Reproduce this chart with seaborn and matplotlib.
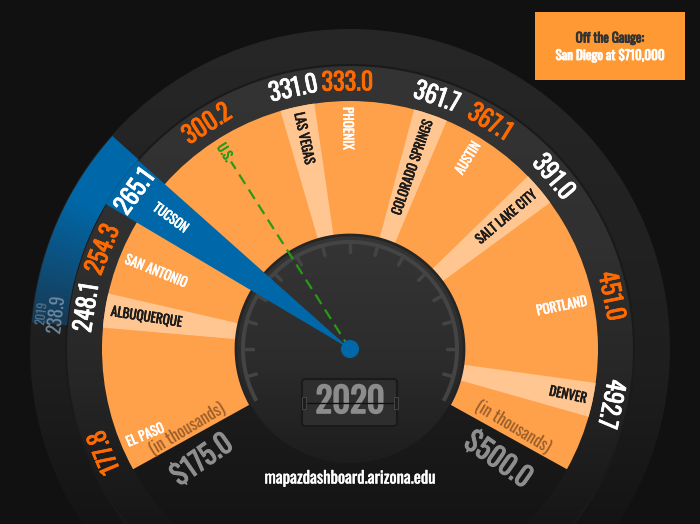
import numpy as np
import pandas as pd
import matplotlib.pyplot as plt
import matplotlib.patheffects as pe
import seaborn as sns
from matplotlib.patches import Wedge, Circle, Rectangle, FancyBboxPatch
from matplotlib.colors import LinearSegmentedColormap

# median home price, 2020 (in thousands)
cities = ["EL PASO", "ALBUQUERQUE", "SAN ANTONIO", "TUCSON", "U.S.", "LAS VEGAS",
          "PHOENIX", "COLORADO SPRINGS", "AUSTIN", "SALT LAKE CITY", "PORTLAND", "DENVER"]
median_price = [177.8, 248.1, 254.3, 265.1, 300.2, 331.0, 333.0, 361.7, 367.1, 391.0, 451.0, 492.7]
tucson_2019 = 238.9
gauge_range = [175.0, 500.0]
gauge_labels = ["$175.0", "$500.0"]
year = "2020"
off_gauge_note = ["Off the Gauge:", "San Diego at $710,000"]
source = "mapazdashboard.arizona.edu"

W, H = 700, 524
CX, CY = 350, 175
START, END = 209, -29
R_DIAL, R_GAUGE, R_VALUE, R_OUTER = 114, 248, 284, 320

ORANGE = "#FFA04B"
PALE = "#FFC691"
BLUE = "#0068A8"
HOT = "#FF6A00"
GREEN = "#2A9A16"

df = pd.DataFrame({"city": cities, "price": median_price})
df["rank"] = np.arange(len(df))
# linear value scale blended with even spacing so close values don't pile up
lin = START + (df["price"] - gauge_range[0]) / (gauge_range[1] - gauge_range[0]) * (END - START)
df["angle"] = 0.4 * lin + 0.6 * np.linspace(200, -4, len(df))
df["kind"] = np.where(df["rank"] % 2 == 1, "pale", "orange")
df.loc[df["city"] == "TUCSON", "kind"] = "blue"
df.loc[df["city"] == "U.S.", "kind"] = "us"


def to_angle(v):
    xs = np.r_[gauge_range[0], df["price"], gauge_range[1]]
    ys = np.r_[START, df["angle"], END]
    return float(np.interp(v, xs, ys))


def polar(r, a):
    t = np.deg2rad(a)
    return CX + r * np.cos(t), CY + r * np.sin(t)


def heavy(color, w=0.7):
    # Oswald is only installed at 400, thicken it a little
    return [pe.withStroke(linewidth=w, foreground=color)]


sns.set_theme(style="white")
plt.rcParams["font.family"] = ["Oswald", "DejaVu Sans"]

fig = plt.figure(figsize=(7, 5.24), dpi=100, facecolor="#111111")
ax = fig.add_axes([0, 0, 1, 1])
ax.set_facecolor("#111111")
ax.set_axis_off()


def shaded(patch, stops, y_bot, y_top, z):
    patch.set_facecolor("none")
    patch.set_edgecolor("none")
    patch.set_zorder(z)
    ax.add_patch(patch)
    cmap = LinearSegmentedColormap.from_list("", stops)
    im = ax.imshow(np.linspace(0, 1, 256)[:, None], cmap=cmap, origin="lower",
                   extent=(0, W, y_bot, y_top), aspect="auto", zorder=z)
    im.set_clip_path(patch)


# dark body of the gauge
shaded(Circle((CX, CY), R_OUTER), [(0, "#141414"), (0.3, "#1e1e1e"), (1, "#272727")],
       0, CY + R_OUTER, 1)
shaded(Wedge((CX, CY), R_VALUE, 0, 360, width=R_VALUE - R_GAUGE),
       [(0, "#161616"), (0.3, "#262626"), (0.6, "#303030"), (1, "#343434")],
       0, CY + R_VALUE, 2)
arc = np.linspace(-45, 225, 200)
ax.plot(*polar(R_VALUE, arc), color="#1a1a1a", lw=1.5, zorder=2)

# orange gauge with alternating city bands
ax.add_patch(Wedge((CX, CY), R_GAUGE, END, START, width=R_GAUGE - R_DIAL,
                   facecolor=ORANGE, edgecolor="none", zorder=3))
for _, row in df[df["kind"] == "pale"].iterrows():
    ax.add_patch(Wedge((CX, CY), R_GAUGE, row["angle"] - 4, row["angle"] + 4,
                       width=R_GAUGE - R_DIAL, facecolor=PALE, edgecolor="none", zorder=4))

# dial face
shaded(Circle((CX, CY), R_DIAL), [(0, "#1d1d1d"), (0.45, "#2c2c2c"), (1, "#353535")],
       CY - R_DIAL, CY + R_DIAL, 5)
arc = np.linspace(END, START, 200)
ax.plot(*polar(R_DIAL, arc), color="#252525", lw=2, zorder=5)
ax.add_patch(Wedge((CX, CY), 109, END, START, width=4, facecolor="#444444",
                   edgecolor="none", zorder=6))
for a in np.arange(-15, 196, 15):
    ax.plot(*polar(np.array([97, 105]), a), color="#444444", lw=2.5, zorder=6)

# Tucson needle and the change since 2019
tuc = df[df["city"] == "TUCSON"].iloc[0]
ax.add_patch(Wedge((CX, CY), R_VALUE, tuc["angle"] - 5.5, tuc["angle"] + 5.5,
                   facecolor=BLUE, edgecolor="none", zorder=7))
a19 = to_angle(tucson_2019)
seg = np.linspace(tuc["angle"] - 5.5, a19, 61)
fade = LinearSegmentedColormap.from_list("", [(0, BLUE), (0.35, BLUE), (1, "#173A55")])
for i in range(len(seg) - 1):
    ax.add_patch(Wedge((CX, CY), R_OUTER - 1, seg[i] - 0.2, seg[i + 1],
                       width=R_OUTER - 1 - R_VALUE, facecolor=fade(i / (len(seg) - 2)),
                       edgecolor="none", zorder=3))

us = df[df["city"] == "U.S."].iloc[0]
ux, uy = polar(np.array([0, 222]), us["angle"])
sns.lineplot(x=ux, y=uy, sort=False, color=GREEN, lw=1.6, ax=ax, zorder=8)
ax.lines[-1].set_dashes((5, 3))
sns.scatterplot(x=[CX], y=[CY], s=170, color=BLUE, edgecolor="none", ax=ax, zorder=9)

# labels
for _, row in df.iterrows():
    a = row["angle"]
    vx, vy = polar(266, a)
    vcol = "white" if row["kind"] in ("pale", "blue") else HOT
    ax.text(vx, vy, f"{row['price']:.1f}", color=vcol, fontsize=17.5,
            rotation=a - 90, ha="center", va="center", rotation_mode="anchor", zorder=10,
            path_effects=heavy(vcol, 0.5))
    lx, ly = polar(242, a)
    ccol = {"pale": "#1a1a1a", "orange": "white", "blue": "white", "us": GREEN}[row["kind"]]
    if a > 90:
        rot, ha = a - 180, "left"
    else:
        rot, ha = a, "right"
    ax.text(lx, ly, row["city"], color=ccol, fontsize=9.5,
            rotation=rot, ha=ha, va="center", rotation_mode="anchor", zorder=10,
            path_effects=heavy(ccol, 0.35))

x, y = polar(310, a19 - 2)
ax.text(x, y, "2019", color="#587489", fontsize=9, rotation=a19 - 92,
        ha="center", va="center", rotation_mode="anchor", zorder=10)
x, y = polar(295, a19 - 2)
ax.text(x, y, f"{tucson_2019:.1f}", color="#6f8ba0", fontsize=13, rotation=a19 - 92,
        ha="center", va="center", rotation_mode="anchor", zorder=10)

for lab, a, rot in [(gauge_labels[0], START + 8, 35), (gauge_labels[1], END - 8, -35)]:
    x, y = polar(185, a)
    ax.text(x, y, lab, color="#8e8e8e", fontsize=20, rotation=rot,
            ha="center", va="center", rotation_mode="anchor", zorder=10,
            path_effects=heavy("#8e8e8e", 0.7))
for a, rot in [(START - 3, 31), (END + 3.5, -31)]:
    x, y = polar(181, a)
    ax.text(x, y, "(in thousands)", color="#9A5E2A", fontsize=12, rotation=rot,
            ha="center", va="center", rotation_mode="anchor", zorder=10)

# year flip box
ax.add_patch(FancyBboxPatch((302, H - 426), 95, 47, boxstyle="round,pad=0,rounding_size=3",
                            facecolor="#2e2e2e", edgecolor="#1a1a1a", lw=1.5, zorder=10))
ax.text(350, H - 402, year, color="#8c8c8c", fontsize=25,
        ha="center", va="center", zorder=11, path_effects=heavy("#8c8c8c", 1.2))
ax.plot([304, 396], [H - 403, H - 403], color="#111111", lw=1, zorder=12)
for hx in (302, 394):
    ax.add_patch(Rectangle((hx, H - 409), 4, 12, facecolor="#1e1e1e", edgecolor="#4a4a4a",
                           lw=0.6, zorder=12))

ax.text(350, H - 478, source, color="white", fontsize=12, ha="center", va="center", zorder=10,
        path_effects=heavy("white", 0.3))

# off-the-gauge note
ax.add_patch(Rectangle((535, H - 80), 150, 68, facecolor="#FF9933", edgecolor="none", zorder=10))
ax.text(610, H - 38, off_gauge_note[0], color="#333333", fontsize=9.5,
        ha="center", va="center", zorder=11, path_effects=heavy("#333333", 0.6))
ax.text(610, H - 55, off_gauge_note[1], color="white", fontsize=9.5,
        ha="center", va="center", zorder=11, path_effects=heavy("white", 0.6))

ax.set_xlim(0, W)
ax.set_ylim(0, H)
fig.savefig("out.png", dpi=100, facecolor=fig.get_facecolor())
